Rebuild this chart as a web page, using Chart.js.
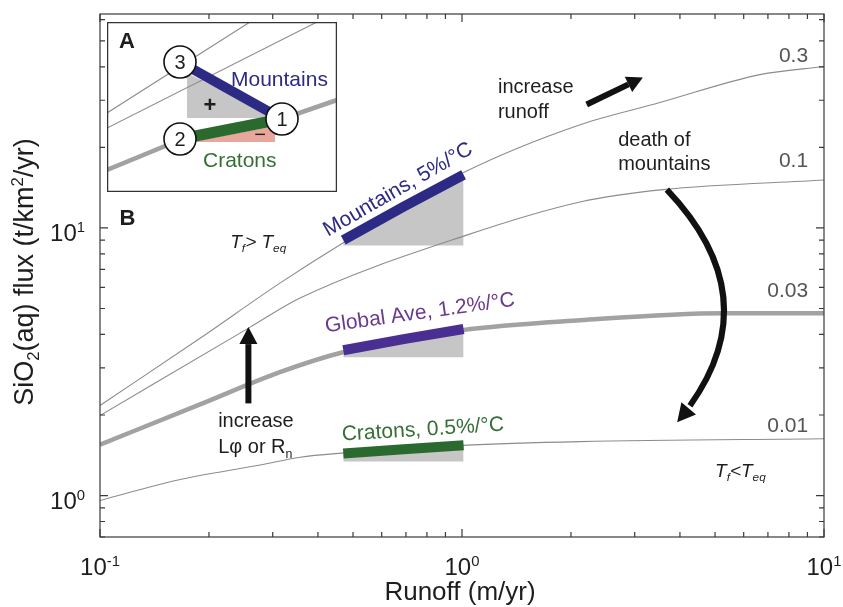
<!DOCTYPE html>
<html>
<head>
<meta charset="utf-8">
<script src="https://cdn.jsdelivr.net/npm/chart.js@4.4.1/dist/chart.umd.min.js"></script>
<style>
  body { margin: 0; background: #fff; }
  #wrap { position: relative; width: 843px; height: 607px; }
  #insetChart { position: absolute; left: 107px; top: 22px; }
</style>
</head>
<body>
<div id="wrap">
  <canvas id="mainChart" width="843" height="607"></canvas>
  <canvas id="insetChart" width="230" height="170"></canvas>
</div>
<script>
// Curves of SiO2 flux vs runoff, one per labelled parameter value
var runoff03 = [0.1, 0.189, 0.314, 0.469, 1.02, 2.12, 3.52, 6.65, 10];
var flux03 = [2.17, 3.87, 6.22, 8.79, 16.2, 24.3, 29.4, 37.4, 40.1];
var runoff01 = [0.1, 0.26, 0.357, 1.03, 2.12, 3.59, 10];
var flux01 = [1.99, 4.26, 5.47, 9.4, 12.5, 13.9, 15.1];
var runoff003 = [0.1, 0.189, 0.314, 0.469, 1.0, 2.12, 5.26, 10];
var flux003 = [1.55, 2.19, 2.89, 3.43, 4.15, 4.52, 4.8, 4.8];
var runoff001 = [0.1, 0.163, 0.277, 0.357, 0.465, 1.0, 2.12, 10];
var flux001 = [0.958, 1.14, 1.30, 1.39, 1.44, 1.54, 1.59, 1.63];
var curveLabels = ['0.3', '0.1', '0.03', '0.01'];

// temperature-sensitivity bars (runoff 0.5 -> 1 m/yr)
var barRunoff = [0.47, 0.69, 1.01];
var mountainsBar = [9.0, 12.0, 15.8];
var globalBar = [3.49, 3.84, 4.19];
var cratonsBar = [1.436, 1.49, 1.54];
var mountainsBase = 8.6;
var globalBase = 3.29;
var cratonsBase = 1.34;

// axis decades
var xDecades = [0.1, 1, 10];
var xDecadeExp = ['-1', '0', '1'];
var yDecades = [1, 10];
var yDecadeExp = ['0', '1'];

// inset A, schematic units (x 0-230, y 0-170)
var insetLineAX = [0, 143], insetLineAY = [79, 170];
var insetLineBX = [0, 210], insetLineBY = [64, 170];
var insetThickX = [0, 73, 175, 230], insetThickY = [22, 52, 73, 92];
var insetBlueX = [73, 175], insetBlueY = [130, 73];
var insetGreenX = [73, 175], insetGreenY = [53, 73];
var insetPlusX = [80, 172], insetPlusY = [119, 74];
var insetMinusX = [90, 168], insetMinusY = [51, 66];
var insetNodeX = [175, 73, 73], insetNodeY = [73, 53, 130];
var insetNodeLabels = ['1', '2', '3'];

var FONT = '"Liberation Sans", Arial, Helvetica, sans-serif';
var TEXT = '#1e1e1e';
var BLUE = '#2d2a86';
var GREEN = '#2b6a2e';

function pts(xs, ys) {
  return xs.map(function (x, i) { return { x: x, y: ys[i] }; });
}

function richText(ctx, parts, x, y, size, align, style) {
  // parts: [text, 0 normal | 1 superscript | -1 subscript]
  var pre = style ? style + ' ' : '';
  var small = size * 0.62;
  var total = 0;
  parts.forEach(function (p) {
    ctx.font = pre + (p[1] ? small : size) + 'px ' + FONT;
    total += ctx.measureText(p[0]).width;
  });
  var cx = align === 'center' ? x - total / 2 : (align === 'right' ? x - total : x);
  ctx.textAlign = 'left';
  ctx.textBaseline = 'alphabetic';
  parts.forEach(function (p) {
    ctx.font = pre + (p[1] ? small : size) + 'px ' + FONT;
    var dy = p[1] === 1 ? -size * 0.36 : (p[1] === -1 ? size * 0.22 : 0);
    ctx.fillText(p[0], cx, y + dy);
    cx += ctx.measureText(p[0]).width;
  });
}

function arrow(ctx, x1, y1, x2, y2, w, headLen, headW) {
  var ang = Math.atan2(y2 - y1, x2 - x1);
  var bx = x2 - headLen * Math.cos(ang), by = y2 - headLen * Math.sin(ang);
  ctx.lineWidth = w;
  ctx.beginPath(); ctx.moveTo(x1, y1); ctx.lineTo(bx, by); ctx.stroke();
  ctx.beginPath();
  ctx.moveTo(x2, y2);
  ctx.lineTo(bx + headW / 2 * Math.sin(ang), by - headW / 2 * Math.cos(ang));
  ctx.lineTo(bx - headW / 2 * Math.sin(ang), by + headW / 2 * Math.cos(ang));
  ctx.closePath(); ctx.fill();
}

var mainDecor = {
  id: 'mainDecor',
  afterDraw: function (chart) {
    var ctx = chart.ctx, a = chart.chartArea;
    var xs = chart.scales.x, ys = chart.scales.y;
    function px(v) { return xs.getPixelForValue(v); }
    function py(v) { return ys.getPixelForValue(v); }
    ctx.save();

    // frame + inward ticks
    ctx.strokeStyle = '#3a3a3a';
    ctx.lineWidth = 1.2;
    ctx.strokeRect(a.left, a.top, a.right - a.left, a.bottom - a.top);
    ctx.beginPath();
    for (var d = 0.1; d < 10; d *= 10) {
      for (var m = 1; m <= 10; m++) {
        var v = m * d, x = px(v);
        var len = (m === 1 || m === 10) ? 8 : 5;
        ctx.moveTo(x, a.bottom); ctx.lineTo(x, a.bottom - len);
        ctx.moveTo(x, a.top); ctx.lineTo(x, a.top + len);
      }
    }
    for (var e = 0.1; e < 100; e *= 10) {
      for (var k = 1; k <= 9; k++) {
        var yv = k * e;
        if (yv < ys.min - 1e-9 || yv > ys.max) continue;
        var y = py(yv), l2 = k === 1 ? 8 : 5;
        ctx.moveTo(a.left, y); ctx.lineTo(a.left + l2, y);
        ctx.moveTo(a.right, y); ctx.lineTo(a.right - l2, y);
      }
    }
    ctx.stroke();

    // tick labels
    ctx.fillStyle = TEXT;
    xDecades.forEach(function (v, i) {
      richText(ctx, [['10', 0], [xDecadeExp[i], 1]], px(v), a.bottom + 38, 24, 'center');
    });
    yDecades.forEach(function (v, i) {
      richText(ctx, [['10', 0], [yDecadeExp[i], 1]], a.left - 15, py(v) + 13, 24, 'right');
    });

    // axis titles
    richText(ctx, [['Runoff (m/yr)', 0]], (a.left + a.right) / 2 - 2, a.bottom + 63, 26, 'center');
    ctx.save();
    ctx.translate(a.left - 67, 272);
    ctx.rotate(-Math.PI / 2);
    richText(ctx, [['SiO', 0], ['2', -1], ['(aq) flux (t/km', 0], ['2', 1], ['/yr)', 0]], 0, 0, 27, 'center');
    ctx.restore();

    // curve labels at the right
    ctx.fillStyle = '#555';
    ctx.font = '21px ' + FONT;
    ctx.textAlign = 'right';
    ctx.textBaseline = 'middle';
    var labelY = [43.7, 17.7, 5.81, 1.81];
    curveLabels.forEach(function (t, i) { ctx.fillText(t, px(9.04), py(labelY[i])); });

    // panel letter
    ctx.fillStyle = TEXT;
    ctx.font = 'bold 22px ' + FONT;
    ctx.textAlign = 'center';
    ctx.fillText('B', px(0.119), py(10.8));

    // text annotations
    ctx.font = '20px ' + FONT;
    ctx.textAlign = 'left';
    ctx.fillText('increase', px(1.257), py(33.4));
    ctx.fillText('runoff', px(1.257), py(27.0));
    ctx.fillText('death of', px(2.70), py(21.2));
    ctx.fillText('mountains', px(2.70), py(17.2));
    ctx.fillText('increase', px(0.212), py(1.89));
    richText(ctx, [['L\u03c6 or R', 0], ['n', -1]], px(0.212), py(1.53) + 7, 20, 'left');
    richText(ctx, [['T', 0], ['f', -1], ['> T', 0], ['eq', -1]], px(0.229), py(8.86) + 6, 19, 'left', 'italic');
    richText(ctx, [['T', 0], ['f', -1], ['<T', 0], ['eq', -1]], px(5.0), py(1.24) + 6, 19, 'left', 'italic');

    // rotated bar labels
    function rotLabel(t, xv, yv, deg, color) {
      ctx.save();
      ctx.translate(px(xv), py(yv));
      ctx.rotate(-deg * Math.PI / 180);
      ctx.fillStyle = color;
      ctx.font = '21px ' + FONT;
      ctx.textAlign = 'center';
      ctx.textBaseline = 'middle';
      ctx.fillText(t, 0, 0);
      ctx.restore();
    }
    rotLabel('Mountains, 5%/\u00b0C', 0.666, 13.9, 30, BLUE);
    rotLabel('Global Ave, 1.2%/\u00b0C', 0.765, 4.8, 8, '#6a3a8c');
    rotLabel('Cratons, 0.5%/\u00b0C', 0.78, 1.76, 3.5, '#356f35');

    // arrows
    ctx.fillStyle = '#111';
    ctx.strokeStyle = '#111';
    ctx.lineCap = 'butt';
    arrow(ctx, px(2.21), py(28.9), px(3.16), py(36.5), 6, 16, 17);
    arrow(ctx, px(0.257), py(2.21), px(0.257), py(4.26), 6, 17, 18);

    // curved "death of mountains" arrow
    var S = [px(3.68), py(13.9)], M = [px(5.29), py(5.15)], E = [px(3.93), py(1.88)];
    var C = [2 * M[0] - (S[0] + E[0]) / 2, 2 * M[1] - (S[1] + E[1]) / 2];
    var t = 0.93;
    var c1 = [S[0] + (C[0] - S[0]) * t, S[1] + (C[1] - S[1]) * t];
    var bt = [(1 - t) * (1 - t) * S[0] + 2 * (1 - t) * t * C[0] + t * t * E[0],
              (1 - t) * (1 - t) * S[1] + 2 * (1 - t) * t * C[1] + t * t * E[1]];
    ctx.lineWidth = 6;
    ctx.beginPath(); ctx.moveTo(S[0], S[1]); ctx.quadraticCurveTo(c1[0], c1[1], bt[0], bt[1]); ctx.stroke();
    var ang = Math.atan2(E[1] - C[1], E[0] - C[0]);
    var hl = 18, hw = 19;
    var bx = E[0] - hl * Math.cos(ang), by = E[1] - hl * Math.sin(ang);
    ctx.beginPath();
    ctx.moveTo(E[0], E[1]);
    ctx.lineTo(bx + hw / 2 * Math.sin(ang), by - hw / 2 * Math.cos(ang));
    ctx.lineTo(bx - hw / 2 * Math.sin(ang), by + hw / 2 * Math.cos(ang));
    ctx.closePath(); ctx.fill();

    ctx.restore();
  }
};

var thin = { borderColor: '#8c8c8c', borderWidth: 1.1, pointRadius: 0, cubicInterpolationMode: 'monotone', fill: false, order: 2 };

new Chart(document.getElementById('mainChart').getContext('2d'), {
  type: 'line',
  data: {
    datasets: [
      Object.assign({ label: 'Mountains bar', data: pts(barRunoff, mountainsBar) }, { borderColor: BLUE, borderWidth: 10, borderCapStyle: 'butt', pointRadius: 0, fill: false, order: 0 }),
      Object.assign({ label: 'Global bar', data: pts(barRunoff, globalBar) }, { borderColor: '#4a2f92', borderWidth: 10, borderCapStyle: 'butt', pointRadius: 0, fill: false, order: 0 }),
      Object.assign({ label: 'Cratons bar', data: pts(barRunoff, cratonsBar) }, { borderColor: GREEN, borderWidth: 10, borderCapStyle: 'butt', pointRadius: 0, fill: false, order: 0 }),
      Object.assign({ label: curveLabels[0], data: pts(runoff03, flux03) }, thin),
      Object.assign({ label: curveLabels[1], data: pts(runoff01, flux01) }, thin),
      Object.assign({ label: curveLabels[2], data: pts(runoff003, flux003) }, thin, { borderColor: '#a2a2a2', borderWidth: 4.5 }),
      Object.assign({ label: curveLabels[3], data: pts(runoff001, flux001) }, thin),
      { label: 'Mountains shade', data: pts(barRunoff, mountainsBar), borderWidth: 0, pointRadius: 0, backgroundColor: '#c6c6c6', fill: { value: mountainsBase }, order: 3 },
      { label: 'Global shade', data: pts(barRunoff, globalBar), borderWidth: 0, pointRadius: 0, backgroundColor: '#c6c6c6', fill: { value: globalBase }, order: 3 },
      { label: 'Cratons shade', data: pts(barRunoff, cratonsBar), borderWidth: 0, pointRadius: 0, backgroundColor: '#c6c6c6', fill: { value: cratonsBase }, order: 3 }
    ]
  },
  options: {
    responsive: false,
    animation: false,
    layout: { autoPadding: false, padding: { left: 100, right: 19, top: 14, bottom: 70 } },
    scales: {
      x: { type: 'logarithmic', min: 0.1, max: 10, display: false },
      y: { type: 'logarithmic', min: 0.7, max: 63, display: false }
    },
    plugins: { legend: { display: false }, tooltip: { enabled: false } }
  },
  plugins: [mainDecor]
});

var insetDecor = {
  id: 'insetDecor',
  beforeDraw: function (chart) {
    var ctx = chart.ctx;
    ctx.save();
    ctx.fillStyle = '#fff';
    ctx.fillRect(0, 0, chart.width, chart.height);
    ctx.restore();
  },
  afterDraw: function (chart) {
    var ctx = chart.ctx;
    var xs = chart.scales.x, ys = chart.scales.y;
    function px(v) { return xs.getPixelForValue(v); }
    function py(v) { return ys.getPixelForValue(v); }
    ctx.save();
    ctx.strokeStyle = '#333';
    ctx.lineWidth = 1.3;
    ctx.strokeRect(0.6, 0.6, chart.width - 1.2, chart.height - 1.2);

    ctx.textAlign = 'center';
    ctx.textBaseline = 'middle';
    ctx.fillStyle = TEXT;
    ctx.font = '20px ' + FONT;
    insetNodeLabels.forEach(function (t, i) { ctx.fillText(t, px(insetNodeX[i]), py(insetNodeY[i]) + 1); });
    ctx.font = 'bold 22px ' + FONT;
    ctx.fillText('A', px(20), py(150));
    ctx.font = 'bold 22px ' + FONT;
    ctx.fillText('+', px(103), py(86));
    ctx.font = '20px ' + FONT;
    ctx.fillText('\u2212', px(153), py(57));
    ctx.textAlign = 'left';
    ctx.font = '21px ' + FONT;
    ctx.fillStyle = BLUE;
    ctx.fillText('Mountains', px(124), py(112));
    ctx.fillStyle = '#356f35';
    ctx.fillText('Cratons', px(96), py(31));
    ctx.restore();
  }
};

new Chart(document.getElementById('insetChart').getContext('2d'), {
  type: 'line',
  data: {
    datasets: [
      { label: 'nodes', data: pts(insetNodeX, insetNodeY), showLine: false, pointRadius: 16, pointBackgroundColor: '#fff', pointBorderColor: '#111', pointBorderWidth: 1.6, order: 0 },
      { label: 'mountains path', data: pts(insetBlueX, insetBlueY), borderColor: BLUE, borderWidth: 10, borderCapStyle: 'butt', pointRadius: 0, fill: false, order: 1 },
      { label: 'cratons path', data: pts(insetGreenX, insetGreenY), borderColor: GREEN, borderWidth: 11, borderCapStyle: 'butt', pointRadius: 0, fill: false, order: 1 },
      { label: 'thick', data: pts(insetThickX, insetThickY), borderColor: '#a2a2a2', borderWidth: 4.5, pointRadius: 0, fill: false, order: 2 },
      { label: 'lineA', data: pts(insetLineAX, insetLineAY), borderColor: '#8c8c8c', borderWidth: 1.1, pointRadius: 0, fill: false, order: 2 },
      { label: 'lineB', data: pts(insetLineBX, insetLineBY), borderColor: '#8c8c8c', borderWidth: 1.1, pointRadius: 0, fill: false, order: 2 },
      { label: 'plus', data: pts(insetPlusX, insetPlusY), borderWidth: 0, pointRadius: 0, backgroundColor: '#c6c6c6', fill: { value: 74 }, order: 3 },
      { label: 'minus', data: pts(insetMinusX, insetMinusY), borderWidth: 0, pointRadius: 0, backgroundColor: '#e9a79c', fill: { value: 50 }, order: 3 }
    ]
  },
  options: {
    responsive: false,
    animation: false,
    layout: { autoPadding: false, padding: 0 },
    scales: {
      x: { type: 'linear', min: 0, max: 230, display: false },
      y: { type: 'linear', min: 0, max: 170, display: false }
    },
    plugins: { legend: { display: false }, tooltip: { enabled: false } }
  },
  plugins: [insetDecor]
});
</script>
</body>
</html>
